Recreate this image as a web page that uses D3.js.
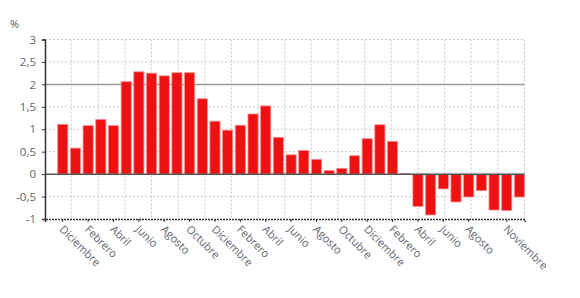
<!DOCTYPE html>
<html>
<head>
<meta charset="utf-8">
<script src="https://cdn.jsdelivr.net/npm/d3@7"></script>
<style>
  body { margin: 0; background: #fff; }
  text { font-family: "Open Sans", "DejaVu Sans", sans-serif; }
</style>
</head>
<body>
<div id="wrapper"></div>
<script>
// monthly values, Dic -> Dic (37 months)
const months = ["Dic","Ene","Feb","Mar","Abr","May","Jun","Jul","Ago","Sep","Oct","Nov",
  "Dic","Ene","Feb","Mar","Abr","May","Jun","Jul","Ago","Sep","Oct","Nov",
  "Dic","Ene","Feb","Mar","Abr","May","Jun","Jul","Ago","Sep","Oct","Nov","Dic"];
const values = [1.11, 0.58, 1.08, 1.22, 1.08, 2.06, 2.28, 2.25, 2.19, 2.26, 2.26, 1.68,
  1.18, 0.98, 1.09, 1.34, 1.52, 0.82, 0.43, 0.53, 0.33, 0.08, 0.13, 0.41,
  0.79, 1.1, 0.73, 0.01, -0.72, -0.91, -0.33, -0.62, -0.51, -0.37, -0.8, -0.81, -0.51];
// which bar gets a tick label, and its text
const tickIndex = [0, 2, 4, 6, 8, 10, 12, 14, 16, 18, 20, 22, 24, 26, 28, 30, 32, 35];
const tickLabels = ["Diciembre","Febrero","Abril","Junio","Agosto","Octubre",
  "Diciembre","Febrero","Abril","Junio","Agosto","Octubre",
  "Diciembre","Febrero","Abril","Junio","Agosto","Noviembre"];
const yTicks = [-1, -0.5, 0, 0.5, 1, 1.5, 2, 2.5, 3];
const yTickLabels = ["-1","-0,5","0","0,5","1","1,5","2","2,5","3"];
const gridColumns = 18;

const dimensions = {
  width: 580,
  height: 298,
  margin: { top: 39.5, right: 55.5, bottom: 79, left: 45 }
};
dimensions.boundedWidth = dimensions.width - dimensions.margin.left - dimensions.margin.right;
dimensions.boundedHeight = dimensions.height - dimensions.margin.top - dimensions.margin.bottom;

const wrapper = d3.select("#wrapper")
  .append("svg")
  .attr("width", dimensions.width)
  .attr("height", dimensions.height);

const bounds = wrapper.append("g")
  .attr("transform", `translate(${dimensions.margin.left}, ${dimensions.margin.top})`);

// one empty slot in front of the first bar
const xScale = d3.scaleBand()
  .domain(d3.range(-1, values.length))
  .range([0, dimensions.boundedWidth])
  .paddingInner(0.2)
  .paddingOuter(0);

const yScale = d3.scaleLinear()
  .domain([-1, 3])
  .range([dimensions.boundedHeight, 0]);

const gridScale = d3.scaleLinear()
  .domain([0, gridColumns])
  .range([0, dimensions.boundedWidth]);

// grid
bounds.append("g")
  .selectAll("line")
  .data(d3.range(1, gridColumns + 1))
  .join("line")
  .attr("x1", d => gridScale(d)).attr("x2", d => gridScale(d))
  .attr("y1", 0).attr("y2", dimensions.boundedHeight)
  .attr("stroke", "#c9c9c9")
  .attr("stroke-dasharray", "2,2");

bounds.append("g")
  .selectAll("line")
  .data(yTicks.filter(d => d !== 0 && d !== 2 && d !== -1))
  .join("line")
  .attr("x1", 0).attr("x2", dimensions.boundedWidth)
  .attr("y1", d => yScale(d)).attr("y2", d => yScale(d))
  .attr("stroke", "#c9c9c9")
  .attr("stroke-dasharray", "2,2");

bounds.append("line")
  .attr("x1", 0).attr("x2", dimensions.boundedWidth)
  .attr("y1", yScale(2)).attr("y2", yScale(2))
  .attr("stroke", "#9a9a9a")
  .attr("stroke-width", 1.5);

// bars
bounds.append("g")
  .selectAll("rect")
  .data(values)
  .join("rect")
  .attr("x", (d, i) => xScale(i))
  .attr("width", xScale.bandwidth())
  .attr("y", d => yScale(Math.max(0, d)))
  .attr("height", d => Math.abs(yScale(d) - yScale(0)))
  .attr("fill", "#ee1111")
  .attr("stroke", "#f59090")
  .attr("stroke-width", 0.8);

// zero line
bounds.append("line")
  .attr("x1", 0).attr("x2", dimensions.boundedWidth)
  .attr("y1", yScale(0)).attr("y2", yScale(0))
  .attr("stroke", "#555")
  .attr("stroke-width", 1.5);

// y axis
const yAxisGenerator = d3.axisLeft(yScale)
  .tickValues(yTicks)
  .tickSize(3)
  .tickFormat((d, i) => yTickLabels[i]);

const yAxis = bounds.append("g").call(yAxisGenerator);
yAxis.select(".domain").attr("stroke", "#333").attr("stroke-width", 1.5);
yAxis.selectAll(".tick line").attr("stroke", "#333");
yAxis.selectAll(".tick text")
  .attr("x", -9)
  .attr("fill", "#5f6470")
  .style("font-size", "11.5px")
  .style("font-family", "'Open Sans', sans-serif");

// x axis
const xAxisGenerator = d3.axisBottom(xScale)
  .tickValues(tickIndex)
  .tickSize(3)
  .tickFormat(d => tickLabels[tickIndex.indexOf(d)]);

const xAxis = bounds.append("g")
  .attr("transform", `translate(0, ${dimensions.boundedHeight})`)
  .call(xAxisGenerator);
xAxis.select(".domain")
  .attr("stroke", "#333")
  .attr("stroke-width", 1.5)
  .attr("stroke-dasharray", "2,1");
xAxis.selectAll(".tick line").attr("stroke", "#333");
xAxis.selectAll(".tick text")
  .attr("text-anchor", "start")
  .attr("x", 0)
  .attr("y", 0)
  .attr("dy", 0)
  .attr("transform", "translate(-4, 11) rotate(45)")
  .attr("fill", "#5f6470")
  .style("font-size", "11px")
  .style("font-family", "'Open Sans', sans-serif");

// unit label
wrapper.append("text")
  .attr("x", 10)
  .attr("y", 28)
  .attr("fill", "#555")
  .style("font-size", "11px")
  .text("%");
</script>
</body>
</html>
